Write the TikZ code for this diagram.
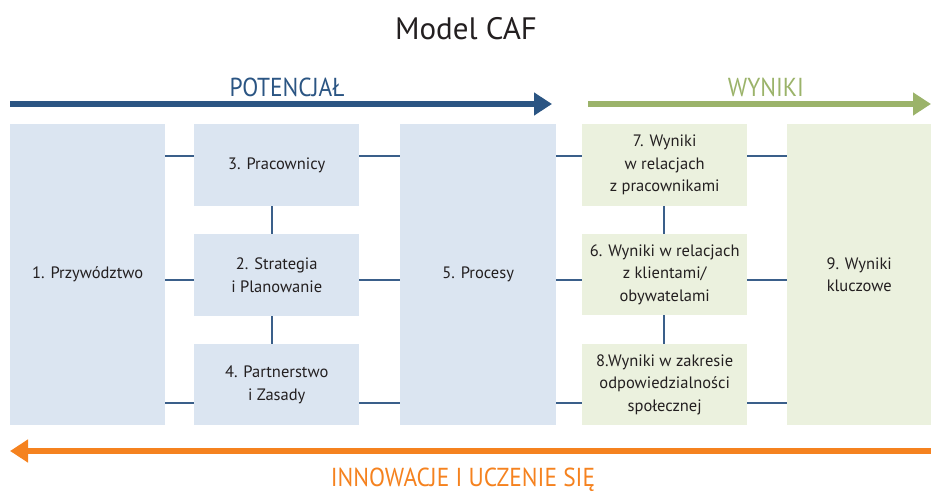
\documentclass[tikz,border=0pt]{standalone}
\usepackage{fontspec}
\setmainfont{PT Sans}
\newfontfamily\condfont[FakeStretch=0.9]{PT Sans}
\usetikzlibrary{arrows.meta}
\definecolor{boxblue}{HTML}{DBE5F1}
\definecolor{boxgreen}{HTML}{EBF1DE}
\definecolor{connblue}{HTML}{3A5F8A}
\definecolor{arrblue}{HTML}{2B5583}
\definecolor{arrgreen}{HTML}{9BB36A}
\definecolor{arrorange}{HTML}{F5821F}
\definecolor{txt}{HTML}{231F20}
\tikzset{
  bbox/.style={fill=boxblue, draw=none, inner sep=0pt, anchor=north west, align=center, text=txt, font=\fontsize{16.5}{22.5}\selectfont},
  gbox/.style={bbox, fill=boxgreen},
  conn/.style={draw=connblue, line width=2pt},
  bigarrow/.style={line width=6pt, -{Triangle[length=18pt,width=22pt]}},
  bandlabel/.style={font=\condfont\fontsize{26}{28}\selectfont}
}
\begin{document}
\begin{tikzpicture}[x=1pt,y=-1pt]
\useasboundingbox (0,0) rectangle (931,494);
% title
\node[font=\fontsize{31}{34}\selectfont, text=txt] (title) at (466,29) {Model CAF};
% band labels
\node[bandlabel, text=arrblue] (lpot) at (287,87) {POTENCJAŁ};
\node[bandlabel, text=arrgreen] (lwyn) at (766,87) {WYNIKI};
\node[bandlabel, text=arrorange] (linn) at (463,480) {INNOWACJE I UCZENIE SIĘ};
% arrows
\coordinate (pA) at (10,104);
\coordinate (pB) at (552,104);
\coordinate (gA) at (588,104);
\coordinate (gB) at (931,104);
\coordinate (oA) at (931,451);
\coordinate (oB) at (10,451);
\draw[bigarrow, arrblue] (pA) -- (pB);
\draw[bigarrow, arrgreen] (gA) -- (gB);
\draw[bigarrow, arrorange] (oA) -- (oB);
% boxes
\node[bbox, minimum width=155pt, minimum height=301pt] (b1) at (10,124) {1. Przywództwo};
\node[bbox, minimum width=165pt, minimum height=82pt] (b3) at (194,124) {3. Pracownicy};
\node[bbox, minimum width=165pt, minimum height=82pt] (b2) at (194,234) {2. Strategia\\i Planowanie};
\node[bbox, minimum width=165pt, minimum height=81pt] (b4) at (194,344) {4. Partnerstwo\\i Zasady};
\node[bbox, minimum width=156pt, minimum height=301pt] (b5) at (400,124) {5. Procesy};
\node[gbox, minimum width=165pt, minimum height=82pt] (b7) at (582,124) {7. Wyniki\\w relacjach\\z pracownikami};
\node[gbox, minimum width=165pt, minimum height=81pt] (b6) at (582,234) {6. Wyniki w relacjach\\z klientami/\\obywatelami};
\node[gbox, minimum width=165pt, minimum height=81pt] (b8) at (582,344) {8.Wyniki w zakresie\\odpowiedzialności\\społecznej};
\node[gbox, minimum width=144pt, minimum height=301pt] (b9) at (787,124) {9. Wyniki\\kluczowe};
% horizontal connectors
\foreach \yy in {156,280,403}{
  \draw[conn] (b1.east |- 0,\yy) -- (b3.west |- 0,\yy);
  \draw[conn] (b3.east |- 0,\yy) -- (b5.west |- 0,\yy);
  \draw[conn] (b5.east |- 0,\yy) -- (b7.west |- 0,\yy);
  \draw[conn] (b7.east |- 0,\yy) -- (b9.west |- 0,\yy);
}
% vertical connectors
\draw[conn] ([xshift=-5pt]b3.south) -- ([xshift=-5pt]b2.north);
\draw[conn] ([xshift=-5pt]b2.south) -- ([xshift=-5pt]b4.north);
\draw[conn] ([xshift=-0.5pt]b7.south) -- ([xshift=-0.5pt]b6.north);
\draw[conn] ([xshift=-0.5pt]b6.south) -- ([xshift=-0.5pt]b8.north);
\end{tikzpicture}
\end{document}
